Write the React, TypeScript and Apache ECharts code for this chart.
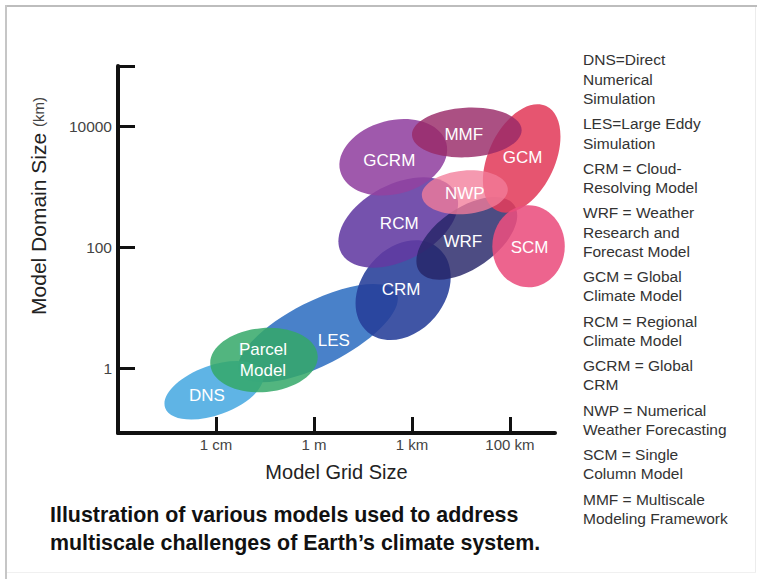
import React, { useEffect, useRef } from "react";
import * as echarts from "echarts";

// ---- data ----
const gridSizeTicks = ["1 cm", "1 m", "1 km", "100 km"];
const domainTicks = [1, 100, 10000];

// drawing order (back to front)
const models = ["LES", "DNS", "Parcel\nModel", "CRM", "RCM", "WRF", "GCRM", "GCM", "SCM", "MMF", "NWP"];
// centre on grid-size axis (tick index: 0 = 1 cm, 1 = 1 m, 2 = 1 km, 3 = 100 km)
const gridSizeCentre = [1.04, -0.02, 0.49, 1.91, 1.86, 2.56, 1.81, 3.12, 3.19, 2.56, 2.54];
// centre on domain-size axis (km)
const domainSizeCentre = [3.8, 0.43, 1.36, 19.5, 258, 141, 3090, 2950, 104, 7940, 813];
// semi-axis along grid size (tick units)
const gridSpread = [0.9, 0.53, 0.55, 0.56, 0.66, 0.59, 0.56, 0.59, 0.37, 0.56, 0.44];
// semi-axis along domain size (decades)
const domainSpread = [0.53, 0.41, 0.53, 0.69, 0.63, 0.5, 0.61, 0.55, 0.68, 0.41, 0.36];
// tilt of the ellipse (degrees)
const tilt = [27, 20, 5, 50, 28, 35, 15, 65, 0, 3, 5];

const definitions = [
  ["DNS=Direct", "Numerical", "Simulation"],
  ["LES=Large Eddy", "Simulation"],
  ["CRM = Cloud-", "Resolving Model"],
  ["WRF = Weather", "Research and", "Forecast Model"],
  ["GCM = Global", "Climate Model"],
  ["RCM = Regional", "Climate Model"],
  ["GCRM = Global", "CRM"],
  ["NWP = Numerical", "Weather Forecasting"],
  ["SCM = Single", "Column Model"],
  ["MMF = Multiscale", "Modeling Framework"],
];

const captionLines = [
  "Illustration of various models used to address",
  "multiscale challenges of Earth\u2019s climate system.",
];

// ---- styles ----
const FONT = "'Liberation Sans', Arial, Helvetica, sans-serif";
const fills = [
  "rgba(58,118,196,0.92)",
  "rgba(86,176,228,0.95)",
  "rgba(52,168,104,0.85)",
  "rgba(38,62,152,0.88)",
  "rgba(98,58,162,0.88)",
  "rgba(38,36,104,0.82)",
  "rgba(146,66,160,0.88)",
  "rgba(226,62,92,0.88)",
  "rgba(234,78,126,0.88)",
  "rgba(152,42,104,0.82)",
  "rgba(242,124,154,0.78)",
];
const labelOffsets = [
  [16, 7], [-7, 5], [-1, 0], [-2, -1], [1, 1], [-4, 3], [-4, 3], [1, -1], [1, 1], [-3, 2], [0, 1],
];

export default function App() {
  const ref = useRef<HTMLDivElement>(null);

  useEffect(() => {
    if (!ref.current) return;
    const chart = echarts.init(ref.current, undefined, { renderer: "svg" });

    const seriesData = models.map((m, i) => [
      gridSizeCentre[i],
      domainSizeCentre[i],
      gridSpread[i],
      domainSpread[i],
      tilt[i],
      i,
    ]);

    const graphic: any[] = [];
    // frame
    graphic.push(
      { type: "line", shape: { x1: 5, y1: 6, x2: 757, y2: 6 }, style: { stroke: "#bdbdbd", lineWidth: 2 } },
      { type: "line", shape: { x1: 6, y1: 5, x2: 6, y2: 579 }, style: { stroke: "#c6c6c6", lineWidth: 2 } },
      { type: "line", shape: { x1: 755.5, y1: 7, x2: 755.5, y2: 573 }, style: { stroke: "#ececec", lineWidth: 1 } },
      { type: "line", shape: { x1: 7, y1: 572.5, x2: 756, y2: 572.5 }, style: { stroke: "#f0f0f0", lineWidth: 1 } }
    );
    // definitions
    const lh = 19.3;
    const gap = 5.9;
    let centre = 60;
    definitions.forEach((g) => {
      graphic.push({
        type: "text",
        x: 583,
        y: centre - lh / 2,
        style: {
          text: g.join("\n"),
          fill: "#333",
          font: `15.5px ${FONT}`,
          lineHeight: lh,
          align: "left",
          verticalAlign: "top",
        },
      });
      centre += g.length * lh + gap;
    });
    // caption
    graphic.push({
      type: "text",
      x: 50,
      y: 501,
      style: {
        text: captionLines.join("\n"),
        fill: "#111",
        font: `bold 21.4px ${FONT}`,
        lineHeight: 28,
        align: "left",
        verticalAlign: "top",
      },
    });
    // y axis title
    graphic.push({
      type: "text",
      x: 38,
      y: 206,
      rotation: Math.PI / 2,
      style: {
        text: "{a|Model Domain Size }{b|(km)}",
        rich: {
          a: { font: `21px ${FONT}`, fill: "#222" },
          b: { font: `15px ${FONT}`, fill: "#444" },
        },
        align: "center",
        verticalAlign: "middle",
      },
    });

    chart.setOption({
      animation: false,
      backgroundColor: "#fff",
      grid: { left: 118, right: 203, top: 66, bottom: 146, containLabel: false },
      xAxis: {
        type: "value",
        min: -1,
        max: 3.46,
        interval: 1,
        name: "Model Grid Size",
        nameLocation: "middle",
        nameGap: 29,
        nameTextStyle: { fontFamily: FONT, fontSize: 20, color: "#222" },
        axisLine: { show: true, onZero: false, lineStyle: { color: "#111", width: 4 } },
        axisTick: {
          show: true,
          inside: true,
          length: 16,
          customValues: [0, 1, 2, 3],
          lineStyle: { color: "#111", width: 3 },
        },
        axisLabel: {
          customValues: [0, 1, 2, 3],
          formatter: (v: number) => gridSizeTicks[Math.round(v)] ?? "",
          fontFamily: FONT,
          fontSize: 15,
          color: "#444",
          margin: 4,
        },
        splitLine: { show: false },
      },
      yAxis: {
        type: "log",
        logBase: 10,
        min: 0.0845,
        max: 100000,
        axisLine: { show: true, onZero: false, lineStyle: { color: "#111", width: 4 } },
        axisTick: {
          show: true,
          inside: true,
          length: 17,
          customValues: [...domainTicks, 100000],
          lineStyle: { color: "#111", width: 3 },
        },
        axisLabel: {
          customValues: domainTicks,
          formatter: (v: number) => String(Math.round(v)),
          fontFamily: FONT,
          fontSize: 15.5,
          color: "#444",
          margin: 6,
        },
        splitLine: { show: false },
      },
      graphic,
      series: [
        {
          type: "custom",
          coordinateSystem: "cartesian2d",
          encode: { x: 0, y: 1 },
          data: seriesData,
          renderItem: (params: any, api: any) => {
            const x = api.value(0);
            const y = api.value(1);
            const sx = api.value(2);
            const sy = api.value(3);
            const rot = api.value(4);
            const idx = api.value(5);
            const c = api.coord([x, y]);
            const px = api.coord([x + sx, y]);
            const py = api.coord([x, y * Math.pow(10, sy)]);
            const rx = Math.abs(px[0] - c[0]);
            const ry = Math.abs(c[1] - py[1]);
            const off = labelOffsets[idx];
            return {
              type: "group",
              children: [
                {
                  type: "ellipse",
                  x: c[0],
                  y: c[1],
                  rotation: (rot * Math.PI) / 180,
                  shape: { cx: 0, cy: 0, rx, ry },
                  style: { fill: fills[idx] },
                  z2: idx,
                },
                {
                  type: "text",
                  x: c[0] + off[0],
                  y: c[1] + off[1],
                  z2: 100,
                  style: {
                    text: models[idx],
                    fill: "#fff",
                    font: `17px ${FONT}`,
                    lineHeight: 21,
                    align: "center",
                    verticalAlign: "middle",
                  },
                },
              ],
            };
          },
        },
      ],
    });

    return () => chart.dispose();
  }, []);

  return (
    <div
      ref={ref}
      style={{ position: "fixed", left: 0, top: 0, width: 758, height: 579 }}
    />
  );
}
